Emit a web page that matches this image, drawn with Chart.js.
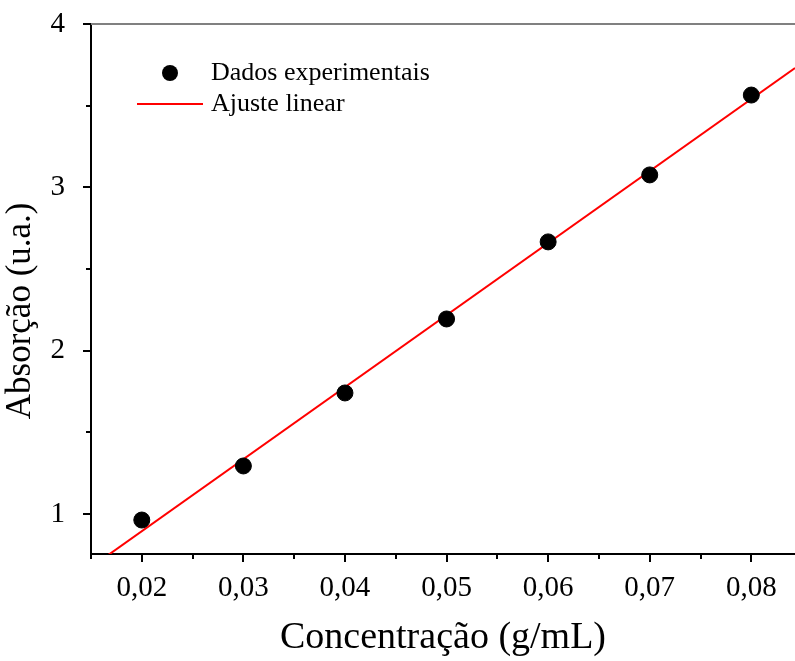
<!DOCTYPE html>
<html>
<head>
<meta charset="utf-8">
<script src="https://cdn.jsdelivr.net/npm/chart.js@4.4.1/dist/chart.umd.min.js"></script>
<style>
  html, body { margin: 0; padding: 0; background: #fff; }
  #wrap { width: 795px; height: 661px; }
</style>
</head>
<body>
<div id="wrap"><canvas id="chart" width="795" height="661"></canvas></div>
<script>
// data
const concentrations = [0.02, 0.03, 0.04, 0.05, 0.06, 0.07, 0.08];
const absorbance = [0.963, 1.294, 1.741, 2.194, 2.666, 3.076, 3.565];
// fitted line, two end points
const fitX = [0.015, 0.0843];
const fitY = [0.674, 3.730];

const xMajor = [0.02, 0.03, 0.04, 0.05, 0.06, 0.07, 0.08];
const xMinor = [0.015, 0.025, 0.035, 0.045, 0.055, 0.065, 0.075];
const yMajor = [1, 2, 3, 4];
const yMinor = [1.5, 2.5, 3.5];

const serif = "'Liberation Serif', 'Times New Roman', serif";

// tick marks, top frame line and legend
const extras = {
  id: "extras",
  afterDraw(chart) {
    const ctx = chart.ctx;
    const area = chart.chartArea;
    const xs = chart.scales.x, ys = chart.scales.y;
    ctx.save();
    // top line
    ctx.strokeStyle = "#808080";
    ctx.lineWidth = 2;
    ctx.beginPath();
    ctx.moveTo(area.left, area.top);
    ctx.lineTo(area.right, area.top);
    ctx.stroke();

    ctx.strokeStyle = "#000";
    ctx.lineWidth = 2;
    const tick = (x1, y1, x2, y2) => {
      ctx.beginPath(); ctx.moveTo(x1, y1); ctx.lineTo(x2, y2); ctx.stroke();
    };
    xMajor.forEach(v => { const p = Math.round(xs.getPixelForValue(v)); tick(p, area.bottom, p, area.bottom + 8); });
    xMinor.forEach(v => { const p = Math.round(xs.getPixelForValue(v)); tick(p, area.bottom, p, area.bottom + 5); });
    yMajor.forEach(v => { const p = Math.round(ys.getPixelForValue(v)); tick(area.left, p, area.left - 8, p); });
    yMinor.forEach(v => { const p = Math.round(ys.getPixelForValue(v)); tick(area.left, p, area.left - 5, p); });

    // legend
    const lx = area.left + 79, ly = area.top + 49;
    ctx.fillStyle = "#000";
    ctx.beginPath();
    ctx.arc(lx, ly, 8, 0, Math.PI * 2);
    ctx.fill();
    ctx.strokeStyle = "#ff0000";
    ctx.lineWidth = 2;
    tick(lx - 33, ly + 31, lx + 33, ly + 31);
    ctx.font = "26px " + serif;
    ctx.textBaseline = "middle";
    ctx.textAlign = "left";
    ctx.fillText(chart.data.datasets[0].label, lx + 41, ly);
    ctx.fillText(chart.data.datasets[1].label, lx + 41, ly + 31);
    ctx.restore();
  }
};

new Chart(document.getElementById("chart"), {
  type: "scatter",
  data: {
    datasets: [
      {
        label: "Dados experimentais",
        data: concentrations.map((x, i) => ({ x, y: absorbance[i] })),
        backgroundColor: "#000",
        borderColor: "#000",
        pointRadius: 8,
        order: 0
      },
      {
        label: "Ajuste linear",
        data: fitX.map((x, i) => ({ x, y: fitY[i] })),
        showLine: true,
        borderColor: "#ff0000",
        borderWidth: 2,
        pointRadius: 0,
        order: 1
      }
    ]
  },
  options: {
    responsive: false,
    animation: false,
    layout: { autoPadding: false, padding: { top: 24, right: 0, left: 0, bottom: 0 } },
    plugins: { legend: { display: false }, tooltip: { enabled: false } },
    scales: {
      x: {
        type: "linear",
        min: 0.015,
        max: 0.0843,
        grid: { display: false },
        border: { display: true, color: "#000", width: 2 },
        afterBuildTicks: s => { s.ticks = xMajor.map(v => ({ value: v })); },
        afterFit: s => { s.height = 107; s.paddingLeft = 0; s.paddingRight = 0; },
        ticks: {
          color: "#000",
          padding: 9,
          font: { family: serif, size: 29 },
          callback: v => v.toFixed(2).replace(".", ",")
        },
        title: {
          display: true,
          text: "Concentração (g/mL)",
          color: "#000",
          font: { family: serif, size: 38 },
          padding: { top: 8, bottom: 0 }
        }
      },
      y: {
        type: "linear",
        min: 0.755,
        max: 4,
        grid: { display: false },
        border: { display: true, color: "#000", width: 2 },
        afterBuildTicks: s => { s.ticks = yMajor.map(v => ({ value: v })); },
        afterFit: s => { s.width = 91; s.paddingTop = 0; s.paddingBottom = 0; },
        ticks: {
          color: "#000",
          padding: 18,
          font: { family: serif, size: 29 },
          callback: v => String(v)
        },
        title: {
          display: true,
          // trailing spaces push the label down, as in the original figure
          text: "Absorção (u.a.)\u00a0\u00a0\u00a0\u00a0\u00a0",
          color: "#000",
          font: { family: serif, size: 35 },
          padding: { top: 0, bottom: 2 }
        }
      }
    }
  },
  plugins: [extras]
});
</script>
</body>
</html>
